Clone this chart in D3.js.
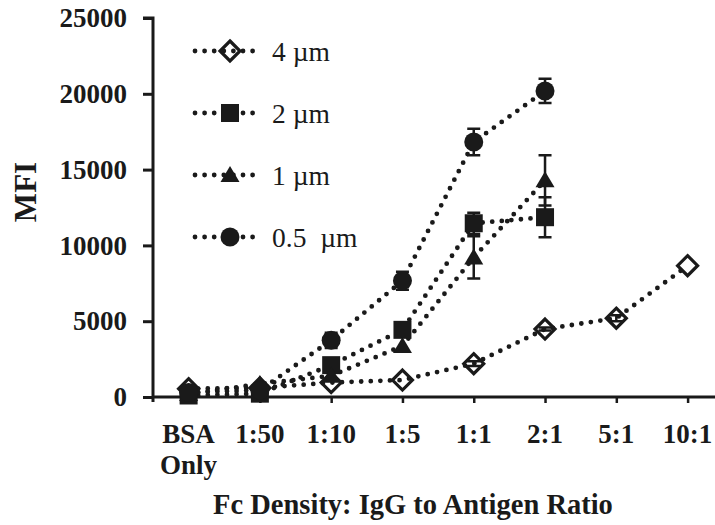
<!DOCTYPE html>
<html><head><meta charset="utf-8">
<script src="https://cdn.jsdelivr.net/npm/d3@7/dist/d3.min.js"></script>
<style>
html,body{margin:0;padding:0;background:#fff;}
svg{display:block;}
text{font-family:"Liberation Serif","Times New Roman",serif;fill:#1a1a1a;}
</style></head>
<body><svg id="c" width="715" height="525"></svg>
<script>
const categories = ["BSA|Only","1:50","1:10","1:5","1:1","2:1","5:1","10:1"];
const yTicks = [0,5000,10000,15000,20000,25000];
const seriesNames = ["4 \u00b5m","2 \u00b5m","1 \u00b5m","0.5\u00a0 \u00b5m"];
const val4um  = [550, 600, 950, 1120, 2200, 4480, 5200, 8660];
const err4um  = [0, 0, 0, 0, 150, 100, 200, 0];
const val2um  = [100, 220, 2100, 4430, 11460, 11860];
const err2um  = [0, 0, 0, 0, 700, 1320];
const val1um  = [200, 860, 1400, 3370, 9210, 14290];
const err1um  = [0, 0, 0, 0, 1390, 1650];
const val05um = [300, 450, 3740, 7670, 16820, 20190];
const err05um = [0, 0, 500, 600, 870, 800];
const xTitle = "Fc Density: IgG to Antigen Ratio";
const yTitle = "MFI";

const svg = d3.select("#c");
const ink = "#1a1a1a";
const x = d3.scalePoint().domain(categories).range([188.6, 687.6]);
const y = d3.scaleLinear().domain([0,25000]).range([397,18]);

// y axis
const yAxis = svg.append("g").attr("transform","translate(153,0)")
  .call(d3.axisLeft(y).tickValues(yTicks).tickSize(10).tickPadding(16).tickFormat(d3.format("d")));
yAxis.select(".domain").attr("d","M-10,18H0V402").attr("stroke",ink).attr("stroke-width",3).attr("fill","none");
yAxis.selectAll(".tick line").attr("stroke",ink).attr("stroke-width",3);
yAxis.selectAll(".tick text").attr("font-size",27).attr("font-weight","bold").attr("fill",ink);

// x axis
const xAxis = svg.append("g").attr("transform","translate(0,397)")
  .call(d3.axisBottom(x).tickSize(6).tickFormat(""));
xAxis.select(".domain").attr("d","M153,0H715").attr("stroke",ink).attr("stroke-width",3);
xAxis.selectAll(".tick line").attr("stroke",ink).attr("stroke-width",2.5);
categories.forEach(c=>{
  const lines = c.split("|");
  lines.forEach((l,i)=>{
    svg.append("text").attr("x",x(c)).attr("y",443+i*31).attr("text-anchor","middle")
      .attr("font-size",27).attr("font-weight","bold").text(l);
  });
});

// titles
svg.append("text").attr("x",413).attr("y",514).attr("text-anchor","middle")
  .attr("font-size",28.5).attr("font-weight","bold").text(xTitle);
svg.append("text").attr("transform","translate(36,192) rotate(-90)").attr("text-anchor","middle")
  .attr("font-size",31).attr("font-weight","bold").text(yTitle);

const series = [
  {vals: val4um, errs: err4um, shape: "diamond"},
  {vals: val2um, errs: err2um, shape: "square"},
  {vals: val1um, errs: err1um, shape: "triangle"},
  {vals: val05um, errs: err05um, shape: "circle"}
];

function drawMarker(g, shape, cx, cy){
  if(shape==="diamond"){
    g.append("path").attr("d",`M${cx},${cy-10}L${cx+10},${cy}L${cx},${cy+10}L${cx-10},${cy}Z`)
      .attr("fill","none").attr("stroke",ink).attr("stroke-width",3.2);
  } else if(shape==="square"){
    g.append("rect").attr("x",cx-9).attr("y",cy-9).attr("width",18).attr("height",18).attr("fill",ink);
  } else if(shape==="triangle"){
    g.append("path").attr("d",`M${cx},${cy-9}L${cx+9.5},${cy+7}L${cx-9.5},${cy+7}Z`).attr("fill",ink);
  } else {
    g.append("circle").attr("cx",cx).attr("cy",cy).attr("r",9.5).attr("fill",ink);
  }
}

const line = d3.line().x((d,i)=>x(categories[i])).y(d=>y(d));
const gLines = svg.append("g");
const gErr = svg.append("g");
const gMarks = svg.append("g");
series.forEach(s=>{
  gLines.append("path").datum(s.vals).attr("d",line).attr("fill","none")
    .attr("stroke",ink).attr("stroke-width",4.8).attr("stroke-linecap","round")
    .attr("stroke-dasharray","0 9.6");
  s.vals.forEach((v,i)=>{
    const e = s.errs[i];
    if(e>0){
      const cx = x(categories[i]);
      gErr.append("path").attr("d",`M${cx},${y(v+e)}V${y(v-e)}M${cx-6.5},${y(v+e)}H${cx+6.5}M${cx-6.5},${y(v-e)}H${cx+6.5}`)
        .attr("stroke",ink).attr("stroke-width",2.5).attr("fill","none");
    }
  });
});
series.forEach(s=>{
  s.vals.forEach((v,i)=>drawMarker(gMarks, s.shape, x(categories[i]), y(v)));
});

// legend
const legY = [51, 113, 175, 237];
series.forEach((s,i)=>{
  const g = svg.append("g");
  g.append("path").attr("d",`M195,${legY[i]}H255`).attr("stroke",ink).attr("stroke-width",4.8)
    .attr("stroke-linecap","round").attr("stroke-dasharray","0 9.6");
  drawMarker(g, s.shape, 230, legY[i]);
  g.append("text").attr("x",272).attr("y",legY[i]+9.5).attr("font-size",27.5).text(seriesNames[i]);
});
</script></body></html>
